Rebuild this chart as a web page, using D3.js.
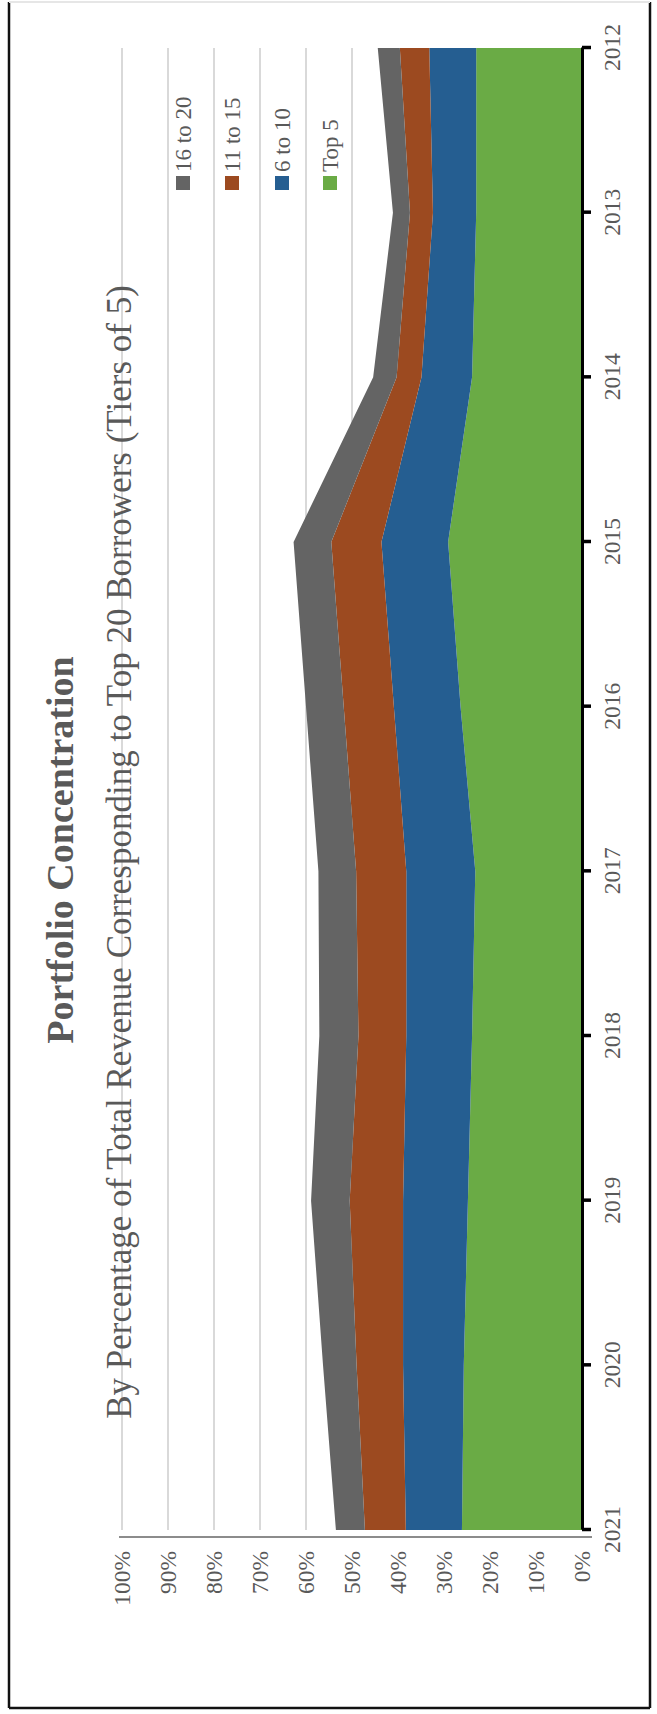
<!DOCTYPE html>
<html>
<head>
<meta charset="utf-8">
<script src="https://cdn.jsdelivr.net/npm/d3@7"></script>
<style>
html,body{margin:0;padding:0;background:#fff;}
svg{display:block;}
text{font-family:"Liberation Serif","Times New Roman",serif;}
</style>
</head>
<body>
<svg id="chart" width="657" height="1714"></svg>
<script>
// ---- data ----
const years = [2012, 2013, 2014, 2015, 2016, 2017, 2018, 2019, 2020, 2021];
const seriesNames = ["Top 5", "6 to 10", "11 to 15", "16 to 20"];
const top5      = [23.0, 23.0, 23.9, 29.1, 26.4, 23.2, 23.9, 24.8, 25.7, 26.1];
const six10     = [10.2,  9.4, 11.0, 14.5, 14.5, 15.0, 14.3, 14.1, 13.2, 12.2];
const eleven15  = [ 6.4,  5.0,  5.4, 10.9, 10.9, 10.9, 10.4, 11.6, 10.1,  8.9];
const sixteen20 = [ 4.8,  3.7,  5.1,  8.2,  8.2,  8.2,  8.5,  8.4,  7.3,  6.3];
const percentTicks = [0, 10, 20, 30, 40, 50, 60, 70, 80, 90, 100];
const colors = ["#6aab45", "#255e91", "#9c4a20", "#646464"];
const titleText = "Portfolio Concentration";
const subtitleText = "By Percentage of Total Revenue Corresponding to Top 20 Borrowers (Tiers of 5)";

// ---- layout (drawn in landscape frame, then rotated -90deg) ----
const PW = 657, PH = 1714;       // page size
const svg = d3.select("#chart");
const g = svg.append("g").attr("transform", `translate(0,${PH}) rotate(-90)`);

const table = years.map((y, i) => ({
  year: y, "Top 5": top5[i], "6 to 10": six10[i], "11 to 15": eleven15[i], "16 to 20": sixteen20[i]
}));

const x = d3.scaleLinear().domain([2012, 2021]).range([1666, 184]);
const y = d3.scaleLinear().domain([0, 100]).range([582, 122]);
const textGray = "#595959";

// border
g.append("line").attr("x1", 6).attr("x2", 1712).attr("y1", 9).attr("y2", 9).attr("stroke", "#111").attr("stroke-width", 2.5);
g.append("line").attr("x1", 6).attr("x2", 1712).attr("y1", 650).attr("y2", 650).attr("stroke", "#111").attr("stroke-width", 2.5);
g.append("line").attr("x1", 6).attr("x2", 6).attr("y1", 9).attr("y2", 650).attr("stroke", "#111").attr("stroke-width", 2.5);
g.append("line").attr("x1", 1712).attr("x2", 1712).attr("y1", 9).attr("y2", 650).attr("stroke", "#e6e6e6").attr("stroke-width", 2);

// gridlines
g.append("g").selectAll("line").data(percentTicks.filter(d => d > 0)).join("line")
  .attr("x1", x(2021)).attr("x2", x(2012))
  .attr("y1", d => y(d)).attr("y2", d => y(d))
  .attr("stroke", "#d9d9d9").attr("stroke-width", 2);

// stacked areas
const stack = d3.stack().keys(seriesNames);
const layers = stack(table);
const area = d3.area()
  .x(d => x(d.data.year))
  .y0(d => y(d[0]))
  .y1(d => y(d[1]));
g.append("g").selectAll("path").data(layers).join("path")
  .attr("d", area)
  .attr("fill", (d, i) => colors[i]);

// y axis (percent)
const yAxis = d3.axisLeft(y).tickValues(percentTicks).tickFormat(d => d + "%").tickSize(0).tickPadding(14);
const yAxisG = g.append("g").attr("transform", "translate(177,0)").call(yAxis);
yAxisG.select(".domain").remove();
g.append("line").attr("x1", 177).attr("x2", 177).attr("y1", 119).attr("y2", 592)
  .attr("stroke", "#8c8c8c").attr("stroke-width", 2);
yAxisG.selectAll("text").attr("font-size", 23.5).attr("fill", textGray)
  .attr("font-family", "'Liberation Serif','Times New Roman',serif");

// x axis (years)
const xAxis = d3.axisBottom(x).tickValues(years).tickFormat(d3.format("d")).tickSizeInner(9).tickSizeOuter(0).tickPadding(12);
const xAxisG = g.append("g").attr("transform", "translate(0,582)").call(xAxis);
xAxisG.select(".domain").attr("stroke", "#000").attr("stroke-width", 3);
xAxisG.selectAll(".tick line").attr("stroke", "#000").attr("stroke-width", 3.5);
xAxisG.selectAll("text").attr("font-size", 23.5).attr("fill", textGray)
  .attr("font-family", "'Liberation Serif','Times New Roman',serif");

// titles
g.append("text").attr("x", 864).attr("y", 73).attr("text-anchor", "middle")
  .attr("font-size", 38).attr("font-weight", "bold").attr("fill", textGray).text(titleText);
g.append("text").attr("x", 862).attr("y", 131).attr("text-anchor", "middle")
  .attr("font-size", 35).attr("fill", textGray).text(subtitleText);

// legend
const legendOrder = ["16 to 20", "11 to 15", "6 to 10", "Top 5"];
const legendV = [183, 232, 282, 330];
const leg = g.append("g").selectAll("g").data(legendOrder).join("g")
  .attr("transform", (d, i) => `translate(1524,${legendV[i]})`);
leg.append("rect").attr("x", 0).attr("y", -7).attr("width", 14).attr("height", 14)
  .attr("fill", d => colors[seriesNames.indexOf(d)]);
leg.append("text").attr("x", 18).attr("y", 0).attr("dy", "0.35em")
  .attr("font-size", 23).attr("fill", textGray).text(d => d);
</script>
</body>
</html>
